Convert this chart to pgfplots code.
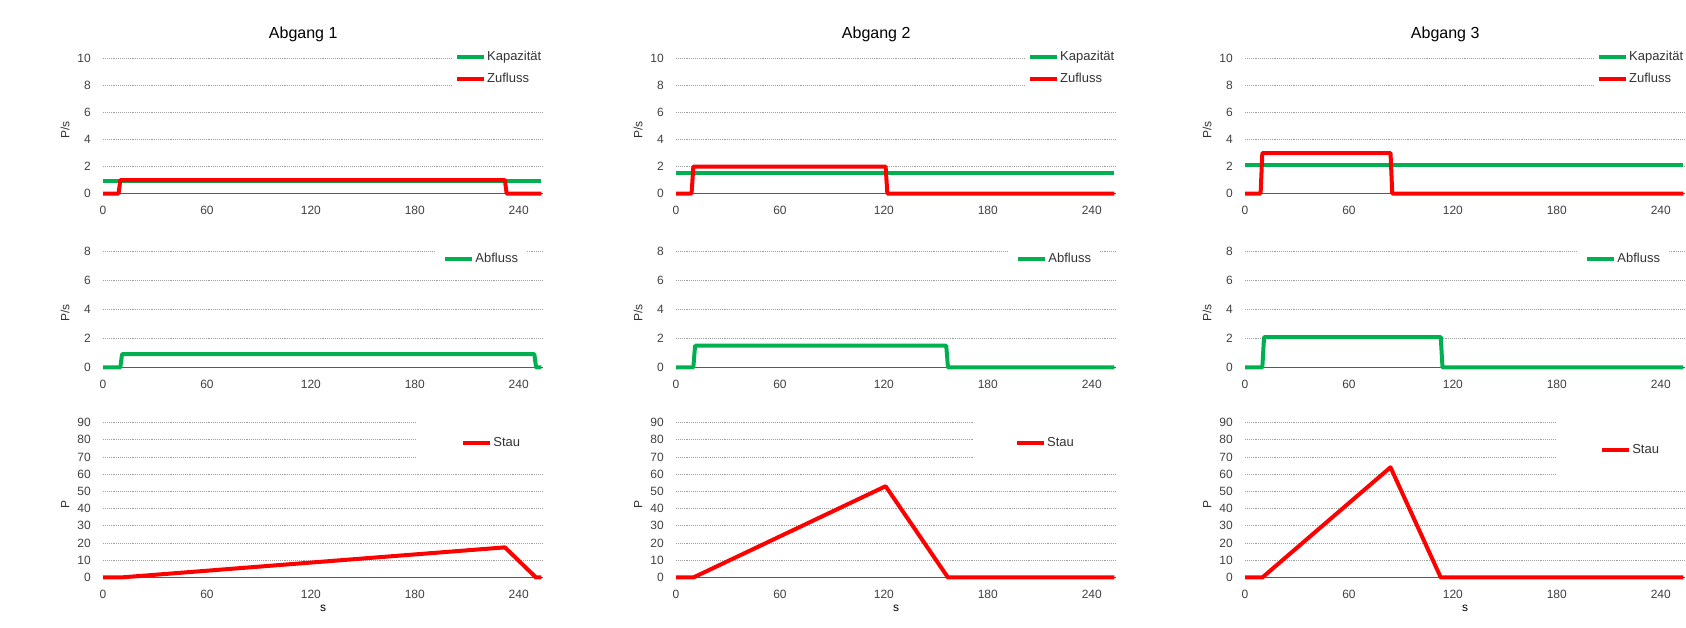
\documentclass[border=0pt]{standalone}
\usepackage{fontspec}
\setmainfont{Liberation Sans}
\usepackage{pgfplots}
\pgfplotsset{compat=1.18}
\definecolor{kgreen}{HTML}{00B050}
\definecolor{zred}{HTML}{FF0000}

\pgfplotsset{
  panel/.style={
    scale only axis, width=440pt, anchor=north west,
    xmin=0, xmax=254, ymin=0, clip=false,
    axis x line*=bottom, axis y line*=left,
    y axis line style={draw=none},
    x axis line style={black!65, line width=1.3pt},
    major tick length=0pt,
    xtick={0,60,...,240},
    ymajorgrids,
    major grid style={gray!75, line width=0.8pt, dash pattern=on 0.8pt off 1.1pt},
    /pgf/number format/assume math mode=true,
    tick label style={font=\fontsize{12}{14}\selectfont, text=black!75},
    xticklabel style={anchor=center, inner sep=0pt, yshift=-17pt},
    yticklabel style={anchor=east, inner sep=0pt, xshift=-12pt},
    ylabel style={at={(rel axis cs:-0.086,0.47)}, anchor=center, font=\fontsize{12}{14}\selectfont, text=black!80},
    legend cell align=left,
    legend image code/.code={\draw[##1, line width=4pt] (0pt,0pt) -- (27pt,0pt);},
    legend style={fill=white, draw=none, anchor=north west, text=black!80,
      font=\fontsize{13}{15}\selectfont, nodes={inner sep=1pt}, row sep=9pt},
  },
  flow/.style={panel, height=135pt, ymax=10, ytick={0,2,...,10}, ylabel={P/s},
    title style={at={(rel axis cs:0.455,1)}, anchor=base, yshift=14pt, font=\fontsize{16}{19}\selectfont},
    legend style={at={(rel axis cs:0.793,1.093)}, inner xsep=3pt, inner ysep=4.25pt}},
  out/.style={panel, height=116pt, ymax=8, ytick={0,2,...,8}, ylabel={P/s},
    legend style={at={(rel axis cs:0.755,1.065)}, inner xsep=8pt, inner ysep=8.25pt}},
  queue/.style={panel, height=155pt, ymax=90, ytick={0,10,...,90}, ylabel={P}, xlabel={s},
    xlabel style={at={(rel axis cs:0.5,0)}, anchor=center, yshift=-30.5pt, font=\fontsize{12}{14}\selectfont}},
  ser/.style={line width=4pt, line join=round},
}

\begin{document}
\begin{tikzpicture}
\useasboundingbox (0pt,0pt) rectangle (1686pt,-627pt);

% ---------- Abgang 1 ----------
\begin{axis}[flow, at={(103pt,-58.5pt)}, title={Abgang 1}]
  \addplot[ser, kgreen] coordinates {(0,0.92) (253,0.92)};
  \addplot[ser, zred] coordinates {(0,0) (9,0) (10,1) (232,1) (233,0) (253,0)};
  \legend{Kapazität, Zufluss}
\end{axis}
\begin{axis}[out, at={(103pt,-251.5pt)}]
  \addplot[ser, kgreen] coordinates {(0,0) (10,0) (11,0.92) (249,0.92) (250,0) (253,0)};
  \legend{Abfluss}
\end{axis}
\begin{axis}[queue, at={(103pt,-422.5pt)},
    legend style={at={(rel axis cs:0.714,1.0226)}, inner xsep=44pt, inner ysep=17.25pt}]
  \addplot[ser, zred] coordinates {(0,0) (10,0) (232,17.5) (250,0) (253,0)};
  \legend{Stau}
\end{axis}

% ---------- Abgang 2 ----------
\begin{axis}[flow, at={(676pt,-58.5pt)}, title={Abgang 2}]
  \addplot[ser, kgreen] coordinates {(0,1.5) (253,1.5)};
  \addplot[ser, zred] coordinates {(0,0) (9,0) (10,2) (121,2) (122,0) (253,0)};
  \legend{Kapazität, Zufluss}
\end{axis}
\begin{axis}[out, at={(676pt,-251.5pt)}]
  \addplot[ser, kgreen] coordinates {(0,0) (10,0) (11,1.5) (156,1.5) (157,0) (253,0)};
  \legend{Abfluss}
\end{axis}
\begin{axis}[queue, at={(676pt,-422.5pt)},
    legend style={at={(rel axis cs:0.677,1.0226)}, inner xsep=41pt, inner ysep=17.25pt}]
  \addplot[ser, zred] coordinates {(0,0) (10,0) (121,53) (157,0) (253,0)};
  \legend{Stau}
\end{axis}

% ---------- Abgang 3 ----------
\begin{axis}[flow, at={(1245pt,-58.5pt)}, title={Abgang 3}]
  \addplot[ser, kgreen] coordinates {(0,2.1) (253,2.1)};
  \addplot[ser, zred] coordinates {(0,0) (9,0) (10,3) (84,3) (85,0) (253,0)};
  \legend{Kapazität, Zufluss}
\end{axis}
\begin{axis}[out, at={(1245pt,-251.5pt)}]
  \addplot[ser, kgreen] coordinates {(0,0) (10,0) (11,2.1) (113,2.1) (114,0) (253,0)};
  \legend{Abfluss}
\end{axis}
\begin{axis}[queue, at={(1245pt,-422.5pt)},
    legend style={at={(rel axis cs:0.707,1.029)}, inner xsep=44pt, inner ysep=25.25pt}]
  \addplot[ser, zred] coordinates {(0,0) (10,0) (84,64) (113,0) (253,0)};
  \legend{Stau}
\end{axis}
\end{tikzpicture}
\end{document}
